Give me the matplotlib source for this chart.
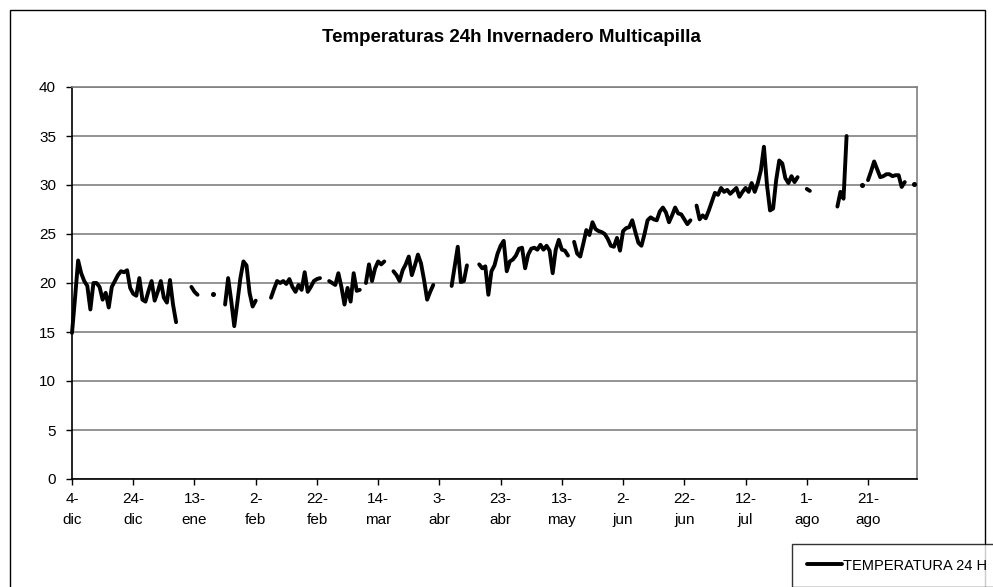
import numpy as np
import matplotlib
matplotlib.use('Agg')
import matplotlib.pyplot as plt
from matplotlib.patches import Rectangle

plt.rcParams['font.family'] = ['Liberation Sans', 'DejaVu Sans']

nan = np.nan

titulo = 'Temperaturas 24h Invernadero Multicapilla'
serie = 'TEMPERATURA 24 H'

# temperatura media diaria desde el 4-dic (un valor por dia, nan = sin dato)
temps = [14.9, 18.5, 22.3, 21.0, 20.2, 19.7, 17.3, 20.0, 20.0, 19.6,
         18.3, 19.0, 17.5, 19.6, 20.2, 20.8, 21.2, 21.1, 21.3, 19.5,
         18.9, 18.7, 20.5, 18.3, 18.1, 19.2, 20.2, 18.2, 19.1, 20.2,
         18.5, 18.0, 20.3, 17.8, 16.0,
         nan, nan, nan, nan,
         19.6, 19.1, 18.8,
         nan, nan, nan, nan,
         18.9,
         nan, nan, nan,
         17.8, 20.5, 18.2, 15.6, 18.0, 20.5, 22.2, 21.8, 19.0, 17.6, 18.2,
         nan, nan, nan, nan,
         18.5, 19.4, 20.2, 20.0, 20.2, 19.9, 20.4, 19.6, 19.1, 19.8,
         19.3, 21.1, 19.1, 19.6, 20.2, 20.4, 20.5,
         nan, nan,
         20.2, 20.0, 19.8, 21.0, 19.6, 17.8, 19.5, 18.1, 21.0, 19.2, 19.3,
         nan,
         20.0, 21.9, 20.2, 21.5, 22.2, 21.9, 22.2,
         nan, nan,
         21.2, 20.8, 20.2, 21.3, 21.9, 22.7, 20.8, 21.8, 22.9, 22.0,
         20.3, 18.3, 19.1, 19.8,
         nan, nan, nan, nan, nan,
         19.7, 21.7, 23.7, 20.1, 20.2, 21.8,
         nan, nan, nan,
         21.9, 21.5, 21.7, 18.8, 21.2, 21.8, 23.0, 23.8, 24.3, 21.2,
         22.2, 22.4, 22.8, 23.5, 23.6, 21.5, 22.9, 23.5, 23.6, 23.4,
         23.9, 23.4, 23.8, 23.3, 21.0, 23.4, 24.4, 23.4, 23.3, 22.8,
         nan,
         24.2, 23.0, 22.7, 24.0, 25.4, 24.9, 26.2, 25.5, 25.3, 25.2,
         25.0, 24.5, 23.8, 23.7, 24.6, 23.3, 25.3, 25.6, 25.7, 26.4,
         25.2, 24.1, 23.8, 25.0, 26.4, 26.7, 26.5, 26.4, 27.3, 27.7,
         27.2, 26.2, 26.9, 27.7, 27.1, 27.0, 26.5, 26.0, 26.4,
         nan,
         27.9, 26.5, 26.9, 26.6, 27.4, 28.3, 29.2, 29.0, 29.7, 29.3,
         29.5, 29.1, 29.4, 29.7, 28.8, 29.3, 29.7, 29.3, 30.2, 29.3,
         30.2, 31.5, 33.9, 30.0, 27.4, 27.6, 30.5, 32.5, 32.2, 30.7,
         30.2, 30.9, 30.3, 30.8,
         nan, nan,
         29.6, 29.4,
         nan, nan, nan, nan, nan, nan, nan, nan,
         27.8, 29.3, 28.6, 35.0,
         nan, nan, nan, nan,
         30.0,
         nan,
         30.5, 31.4, 32.4, 31.6, 30.8, 30.9, 31.1, 31.1, 30.9, 31.0,
         31.0, 29.8, 30.3,
         nan, nan,
         30.1]

fechas = ['4-\ndic', '24-\ndic', '13-\nene', '2-\nfeb', '22-\nfeb', '14-\nmar',
          '3-\nabr', '23-\nabr', '13-\nmay', '2-\njun', '22-\njun', '12-\njul',
          '1-\nago', '21-\nago']

y = np.array(temps)
x = np.arange(len(y))

fig = plt.figure(figsize=(9.93, 5.87), dpi=100)
ax = fig.add_axes([72/993, 1-479/587, 845/993, 392/587])

ax.plot(x, y, color='black', lw=2.8, solid_joinstyle='round',
        solid_capstyle='round', clip_on=False, label=serie, zorder=3)

# puntos sueltos (sin vecinos) se dibujan como un punto
ok = ~np.isnan(y)
prev_ok = np.r_[False, ok[:-1]]
next_ok = np.r_[ok[1:], False]
solo = ok & ~prev_ok & ~next_ok
ax.plot(x[solo], y[solo], 'o', color='black', ms=2.6, clip_on=False, zorder=3)

ax.set_xlim(0, 276)
ax.set_ylim(0, 40)
ax.set_yticks(np.arange(0, 41, 5))
ax.set_xticks(np.arange(0, 20*len(fechas), 20))
ax.set_xticklabels(fechas, linespacing=1.6)
ax.yaxis.grid(True, color='#808080', lw=1.2)
ax.set_axisbelow(True)

ax.tick_params(axis='both', direction='out', length=4.5, width=1, color='black',
               labelsize=11, pad=5)
ax.tick_params(axis='y', pad=7)
for s in ['top', 'right']:
    ax.spines[s].set_color('#808080')
    ax.spines[s].set_linewidth(1.2)
for s in ['left', 'bottom']:
    ax.spines[s].set_color('black')
    ax.spines[s].set_linewidth(1.2)

fig.text(511/993, 1-38/587, titulo, ha='center', va='center',
         fontsize=13.5, fontweight='bold')

# borde del area del grafico
fig.patches.append(Rectangle((10/993, -0.05), 975/993, 1.05-10/587,
                             transform=fig.transFigure, fill=False,
                             edgecolor='black', lw=1.0))

leg = fig.legend(loc='upper left', bbox_to_anchor=(792/993, 1-544/587),
                 fontsize=10.5, frameon=True, fancybox=False, handlelength=2.4,
                 handletextpad=0.1, borderpad=1.0, borderaxespad=0)
leg.get_frame().set_edgecolor('black')
leg.get_frame().set_linewidth(1.0)

plt.savefig('out.png', dpi=100)
